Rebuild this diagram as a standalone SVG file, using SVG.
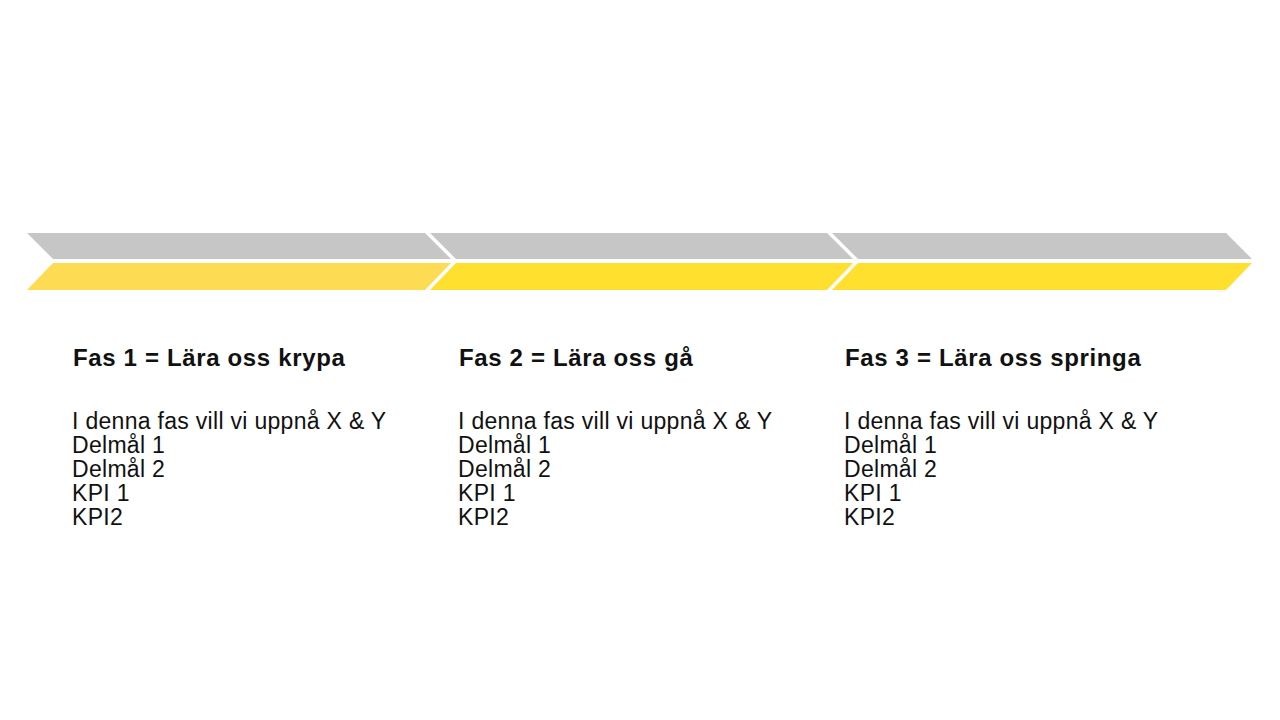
<svg xmlns="http://www.w3.org/2000/svg" width="1280" height="720" viewBox="0 0 1280 720">
<style>
.gray{fill:#c6c6c6}
.y1{fill:#fddb52}
.y2{fill:#ffe02f}
.title{font-family:"Liberation Sans",Arial,sans-serif;font-weight:bold;font-size:24px;letter-spacing:0.65px;fill:#111}
.body{font-family:"Liberation Sans",Arial,sans-serif;font-size:23px;letter-spacing:0.3px;fill:#111}
</style>
<rect width="1280" height="720" fill="#ffffff"/>
<g id="phase1">
<polygon class="gray" points="27,233 425,233 451,259 53,259"/>
<polygon class="y1" points="53,263 451,263 425,290 27,290"/>
<text class="title" x="73" y="366">Fas 1 = Lära oss krypa</text>
<text class="body" x="72" y="429">I denna fas vill vi uppnå X &amp; Y</text>
<text class="body" x="72" y="453">Delmål 1</text>
<text class="body" x="72" y="477">Delmål 2</text>
<text class="body" x="72" y="501">KPI 1</text>
<text class="body" x="72" y="525">KPI2</text>
</g>
<g id="phase2">
<polygon class="gray" points="430,233 827,233 853,259 456,259"/>
<polygon class="y2" points="456,263 853,263 827,290 430,290"/>
<text class="title" x="459" y="366">Fas 2 = Lära oss gå</text>
<text class="body" x="458" y="429">I denna fas vill vi uppnå X &amp; Y</text>
<text class="body" x="458" y="453">Delmål 1</text>
<text class="body" x="458" y="477">Delmål 2</text>
<text class="body" x="458" y="501">KPI 1</text>
<text class="body" x="458" y="525">KPI2</text>
</g>
<g id="phase3">
<polygon class="gray" points="832,233 1226,233 1252,259 858,259"/>
<polygon class="y2" points="858,263 1252,263 1226,290 832,290"/>
<text class="title" x="845" y="366">Fas 3 = Lära oss springa</text>
<text class="body" x="844" y="429">I denna fas vill vi uppnå X &amp; Y</text>
<text class="body" x="844" y="453">Delmål 1</text>
<text class="body" x="844" y="477">Delmål 2</text>
<text class="body" x="844" y="501">KPI 1</text>
<text class="body" x="844" y="525">KPI2</text>
</g>
<g id="connectors"></g>
</svg>
